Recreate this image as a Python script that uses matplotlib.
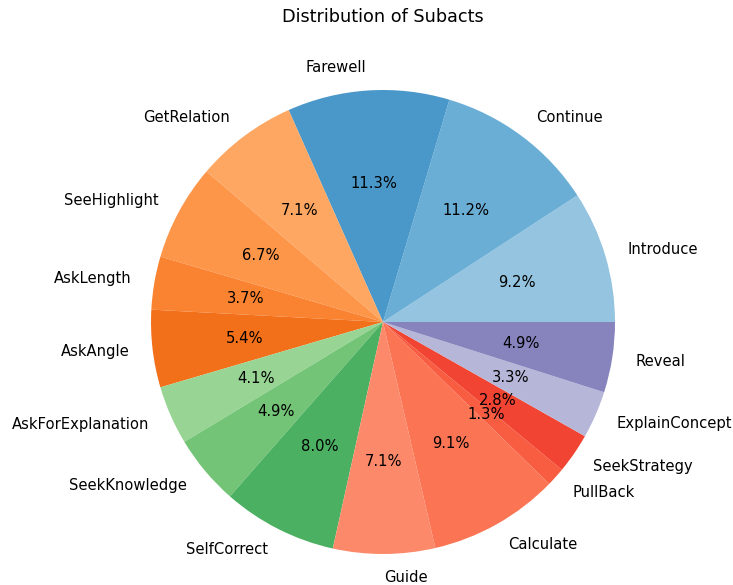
import matplotlib.pyplot as plt
import numpy as np

labels = ['Introduce', 'Continue', 'Farewell',
          'GetRelation', 'SeeHighlight', 'AskLength', 'AskAngle',
          'AskForExplanation', 'SeekKnowledge', 'SelfCorrect',
          'Guide', 'Calculate', 'PullBack', 'SeekStrategy',
          'ExplainConcept', 'Reveal']
shares = [9.2, 11.2, 11.3,
          7.1, 6.7, 3.7, 5.4,
          4.1, 4.9, 8.0,
          7.1, 9.1, 1.3, 2.8,
          3.3, 4.9]

# colour groups: (colormap, number of slices)
groups = [('Blues', 3), ('Oranges', 4), ('Greens', 3), ('Reds', 4), ('Purples', 2)]
colors = []
for cmap_name, n in groups:
    cmap = plt.get_cmap(cmap_name)
    colors.extend(cmap(np.linspace(0.4, 0.6, n)))

fig = plt.figure(figsize=(7.33, 5.85), dpi=100)
ax = fig.add_axes([0.0, 0.0, 1.0, 1.0])
ax.pie(shares, labels=labels, colors=colors, autopct='%1.1f%%',
       textprops={'fontsize': 10.6})
ax.set_aspect('equal')

# place pie: centre (383, 322) px, radius 232 px
r_px = 232
cx, cy = 383, 585 - 322
w, h = 733, 585
lim = 1.25
ax.set_xlim(-lim, lim)
ax.set_ylim(-lim, lim)
size = 2 * lim * r_px
ax.set_position([(cx - size / 2) / w, (cy - size / 2) / h, size / w, size / h])

fig.text(383 / w, 1 - 17 / h, 'Distribution of Subacts', ha='center', va='center', fontsize=12.7)

plt.savefig('out.png', dpi=100)
